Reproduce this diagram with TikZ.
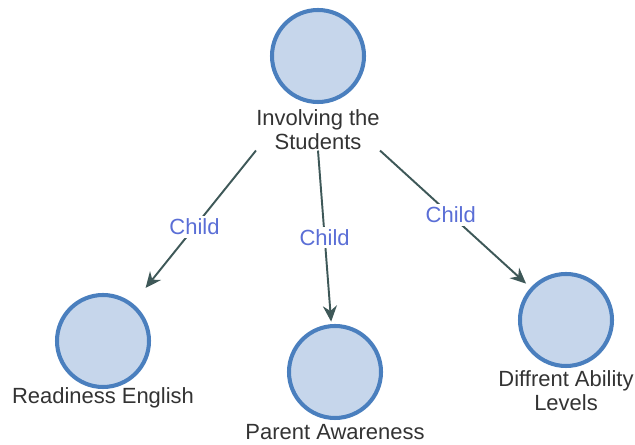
\documentclass[tikz,border=0pt]{standalone}
\usepackage{fontspec}
\setmainfont{Liberation Sans}
\usetikzlibrary{arrows.meta}
\definecolor{circfill}{HTML}{C6D6EB}
\definecolor{circdraw}{HTML}{4A7FBE}
\definecolor{arrcol}{HTML}{3E5858}
\definecolor{lblblue}{HTML}{5A6ED6}
\definecolor{txtgray}{HTML}{333333}
\tikzset{
	topic/.style={circle,draw=circdraw,fill=circfill,line width=2.3pt,minimum size=1.84cm,inner sep=0pt},
	topiclbl/.style={text=txtgray,align=center,inner sep=0pt,font=\fontsize{12.5}{13.8}\selectfont},
	childarr/.style={draw=arrcol,line width=1.1pt,-{Stealth[length=9pt,width=8pt]}},
	childlbl/.style={text=lblblue,fill=white,inner sep=1.5pt,font=\fontsize{12.5}{13.8}\selectfont}
}
\begin{document}
\begin{tikzpicture}
	\useasboundingbox (0,0) rectangle (12.7,8.9);
	\node[topic] at (6.36,7.78) (involving) {};
	\node[topiclbl] at (6.36,6.30) (involvinglbl) {Involving the\\Students};
	\node[topic] at (2.06,2.08) (readiness) {};
	\node[topiclbl] at (2.06,0.94) (readinesslbl) {Readiness English};
	\node[topic] at (6.70,1.46) (parent) {};
	\node[topiclbl] at (6.70,0.26) (parentlbl) {Parent Awareness};
	\node[topic] at (11.32,2.50) (ability) {};
	\node[topiclbl] at (11.32,1.08) (abilitylbl) {Diffrent Ability\\Levels};
	\path (involvinglbl.south west) edge[childarr,shorten >=0.4cm] node[childlbl] {Child} (readiness)
	(involvinglbl.south) edge[childarr,shorten >=0.05cm] node[childlbl] {Child} (parent)
	(involvinglbl.south east) edge[childarr,shorten >=0.12cm] node[childlbl,pos=0.47] {Child} (ability);
\end{tikzpicture}
\end{document}
